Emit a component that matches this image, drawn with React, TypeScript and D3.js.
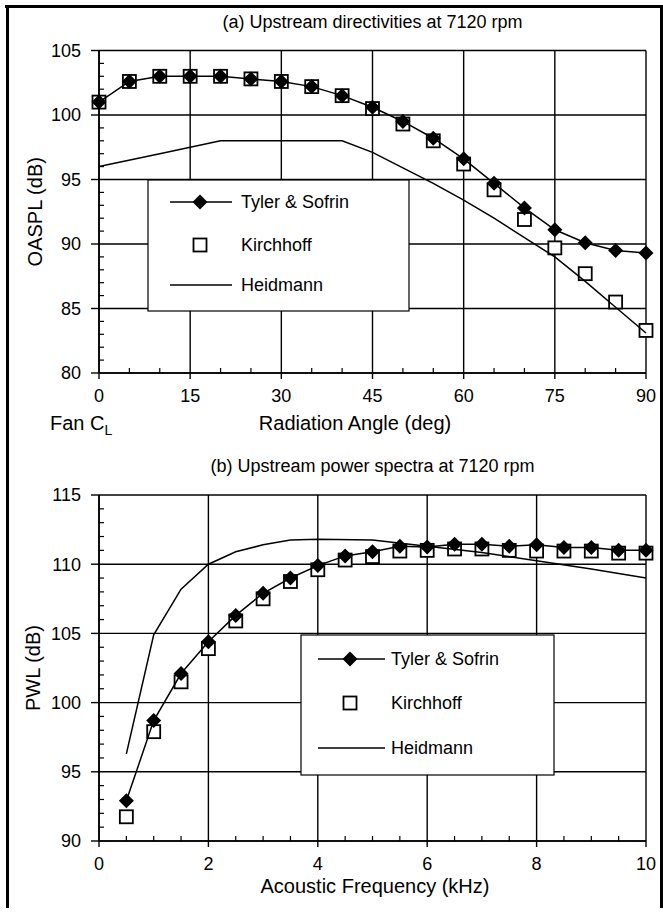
import React from "react";
import * as d3 from "d3";

// ---------- Data: (a) Upstream directivities ----------
const anglesA = [0, 5, 10, 15, 20, 25, 30, 35, 40, 45, 50, 55, 60, 65, 70, 75, 80, 85, 90];
const tylerA = [101.0, 102.6, 103.0, 103.0, 103.0, 102.8, 102.6, 102.2, 101.5, 100.6, 99.5, 98.2, 96.6, 94.7, 92.8, 91.1, 90.1, 89.5, 89.3];
const kirchA = [101.0, 102.6, 103.0, 103.0, 103.0, 102.8, 102.6, 102.2, 101.5, 100.5, 99.3, 98.0, 96.2, 94.2, 91.9, 89.7, 87.7, 85.5, 83.3];
const heidAnglesA = [0, 10, 20, 40, 45, 50, 55, 60, 65, 70, 75, 80, 85, 90];
const heidA = [96.0, 97.0, 98.0, 98.0, 97.1, 95.9, 94.7, 93.4, 92.0, 90.5, 89.0, 87.1, 85.1, 83.1];
const xTicksA = [0, 15, 30, 45, 60, 75, 90];
const yTicksA = [80, 85, 90, 95, 100, 105];

// ---------- Data: (b) Upstream power spectra ----------
const freqsB = [0.5, 1, 1.5, 2, 2.5, 3, 3.5, 4, 4.5, 5, 5.5, 6, 6.5, 7, 7.5, 8, 8.5, 9, 9.5, 10];
const tylerB = [92.9, 98.7, 102.1, 104.4, 106.3, 107.9, 109.0, 109.9, 110.6, 110.9, 111.3, 111.25, 111.45, 111.45, 111.3, 111.4, 111.2, 111.2, 111.0, 111.0];
const kirchB = [91.75, 97.9, 101.5, 103.9, 105.9, 107.5, 108.75, 109.6, 110.3, 110.55, 110.95, 111.0, 111.1, 111.1, 111.0, 110.95, 110.95, 110.95, 110.8, 110.8];
const heidFreqsB = [0.5, 1, 1.5, 2, 2.5, 3, 3.5, 4, 5, 6, 7, 8, 9, 10];
const heidB = [96.3, 104.9, 108.2, 110.0, 110.9, 111.4, 111.75, 111.8, 111.75, 111.3, 110.85, 110.25, 109.65, 109.0];
const xTicksB = [0, 2, 4, 6, 8, 10];
const yTicksB = [90, 95, 100, 105, 110, 115];

const seriesNames = ["Tyler & Sofrin", "Kirchhoff", "Heidmann"];

const FONT = "'Liberation Sans', Arial, Helvetica, sans-serif";

type PanelProps = {
  title: string;
  titleY: number;
  top: number;
  bottom: number;
  xDomain: [number, number];
  yDomain: [number, number];
  xTicks: number[];
  yTicks: number[];
  xMinorStep: number;
  xs: number[];
  tyler: number[];
  kirch: number[];
  heidX: number[];
  heid: number[];
  yLabel: string;
  yLabelX: number;
  legend: { x0: number; y0: number; x1: number; y1: number; rows: number[]; lineX0: number; lineX1: number; markX: number; textX: number };
  xLabel: React.ReactNode;
};

const LEFT = 99;
const RIGHT = 646;

function Diamond({ x, y, w = 7.5, h = 7.5 }: { x: number; y: number; w?: number; h?: number }) {
  return <path d={`M${x},${y - h}L${x + w},${y}L${x},${y + h}L${x - w},${y}Z`} fill="#000" />;
}

function Square({ x, y, s = 13 }: { x: number; y: number; s?: number }) {
  return <rect x={x - s / 2} y={y - s / 2} width={s} height={s} fill="#fff" stroke="#000" strokeWidth={1.8} />;
}

function Panel(p: PanelProps) {
  const x = d3.scaleLinear().domain(p.xDomain).range([LEFT, RIGHT]);
  const y = d3.scaleLinear().domain(p.yDomain).range([p.bottom, p.top]);
  const line = d3.line<[number, number]>().x((d) => x(d[0])).y((d) => y(d[1]));
  const tylerPts: [number, number][] = p.xs.map((v, i) => [v, p.tyler[i]]);
  const kirchPts: [number, number][] = p.xs.map((v, i) => [v, p.kirch[i]]);
  const heidPts: [number, number][] = p.heidX.map((v, i) => [v, p.heid[i]]);
  const yMinor = d3.range(p.yDomain[0] + 1, p.yDomain[1], 1).filter((v) => v % 5 !== 0);
  const nMinor = Math.round((p.xDomain[1] - p.xDomain[0]) / p.xMinorStep);
  const xMinor = d3.range(1, nMinor).map((i) => p.xDomain[0] + i * p.xMinorStep).filter((v) => !p.xTicks.some((t) => Math.abs(t - v) < 1e-6));
  const lg = p.legend;
  const plotCx = (LEFT + RIGHT) / 2;
  return (
    <g>
      <text x={plotCx} y={p.titleY} textAnchor="middle" fontSize={18} fontFamily={FONT}>{p.title}</text>
      {/* grid */}
      {p.yTicks.map((t) => (
        <line key={"gy" + t} x1={LEFT} x2={RIGHT} y1={y(t)} y2={y(t)} stroke="#000" strokeWidth={1.4} />
      ))}
      {p.xTicks.map((t) => (
        <line key={"gx" + t} x1={x(t)} x2={x(t)} y1={p.top} y2={p.bottom} stroke="#000" strokeWidth={1.4} />
      ))}
      {/* axes */}
      <line x1={LEFT} x2={LEFT} y1={p.top} y2={p.bottom} stroke="#000" strokeWidth={1.6} />
      <line x1={LEFT} x2={RIGHT} y1={p.bottom} y2={p.bottom} stroke="#000" strokeWidth={1.6} />
      {/* y ticks */}
      {p.yTicks.map((t) => (
        <g key={"yt" + t}>
          <line x1={LEFT - 8} x2={LEFT} y1={y(t)} y2={y(t)} stroke="#000" strokeWidth={1.4} />
          <text x={81} y={y(t)} dy="0.36em" textAnchor="end" fontSize={18} fontFamily={FONT}>{t}</text>
        </g>
      ))}
      {yMinor.map((t) => (
        <line key={"ym" + t} x1={LEFT} x2={LEFT + 5} y1={y(t)} y2={y(t)} stroke="#000" strokeWidth={1.2} />
      ))}
      {/* x ticks */}
      {p.xTicks.map((t) => (
        <g key={"xt" + t}>
          <line x1={x(t)} x2={x(t)} y1={p.bottom} y2={p.bottom + 6} stroke="#000" strokeWidth={1.4} />
          <text x={x(t)} y={p.bottom + 29} textAnchor="middle" fontSize={18} fontFamily={FONT}>{t}</text>
        </g>
      ))}
      {xMinor.map((t) => (
        <line key={"xm" + t} x1={x(t)} x2={x(t)} y1={p.bottom} y2={p.bottom - 5} stroke="#000" strokeWidth={1.2} />
      ))}
      {/* legend box (behind data) */}
      <rect x={lg.x0} y={lg.y0} width={lg.x1 - lg.x0} height={lg.y1 - lg.y0} fill="#fff" stroke="#000" strokeWidth={1.2} />
      {/* data */}
      {kirchPts.map((d, i) => <Square key={"k" + i} x={x(d[0])} y={y(d[1])} />)}
      <path d={line(heidPts) || ""} fill="none" stroke="#000" strokeWidth={1.5} />
      <path d={line(tylerPts) || ""} fill="none" stroke="#000" strokeWidth={1.5} />
      {tylerPts.map((d, i) => <Diamond key={"t" + i} x={x(d[0])} y={y(d[1])} />)}
      {/* legend entries */}
      <line x1={lg.lineX0} x2={lg.lineX1} y1={lg.rows[0]} y2={lg.rows[0]} stroke="#000" strokeWidth={1.5} />
      <Diamond x={lg.markX} y={lg.rows[0]} />
      <Square x={lg.markX} y={lg.rows[1]} />
      <line x1={lg.lineX0} x2={lg.lineX1} y1={lg.rows[2]} y2={lg.rows[2]} stroke="#000" strokeWidth={1.5} />
      {seriesNames.map((n, i) => (
        <text key={n} x={lg.textX} y={lg.rows[i]} dy="0.36em" fontSize={18} fontFamily={FONT}>{n}</text>
      ))}
      {/* axis titles */}
      <text transform={`translate(${p.yLabelX},${(p.top + p.bottom) / 2}) rotate(-90)`} textAnchor="middle" dy="0.36em" fontSize={20} fontFamily={FONT}>{p.yLabel}</text>
      {p.xLabel}
    </g>
  );
}

export default function App() {
  return (
    <svg width={663} height={912} style={{ position: "absolute", left: 0, top: 0, background: "#fff" }} xmlns="http://www.w3.org/2000/svg">
      <rect x={0} y={0} width={663} height={912} fill="#fff" />
      <Panel
        title="(a) Upstream directivities at 7120 rpm"
        titleY={28}
        top={50.5}
        bottom={373}
        xDomain={[0, 90]}
        yDomain={[80, 105]}
        xTicks={xTicksA}
        yTicks={yTicksA}
        xMinorStep={5}
        xs={anglesA}
        tyler={tylerA}
        kirch={kirchA}
        heidX={heidAnglesA}
        heid={heidA}
        yLabel="OASPL (dB)"
        yLabelX={35}
        legend={{ x0: 148, y0: 180, x1: 409, y1: 311, rows: [202, 245, 285], lineX0: 170, lineX1: 232, markX: 200, textX: 241 }}
        xLabel={
          <g fontFamily={FONT} fontSize={20}>
            <text x={50} y={430}>Fan C<tspan fontSize={14} dy={5}>L</tspan></text>
            <text x={355} y={430} textAnchor="middle">Radiation Angle (deg)</text>
          </g>
        }
      />
      <Panel
        title="(b) Upstream power spectra at 7120 rpm"
        titleY={472}
        top={495}
        bottom={841}
        xDomain={[0, 10]}
        yDomain={[90, 115]}
        xTicks={xTicksB}
        yTicks={yTicksB}
        xMinorStep={0.5}
        xs={freqsB}
        tyler={tylerB}
        kirch={kirchB}
        heidX={heidFreqsB}
        heid={heidB}
        yLabel="PWL (dB)"
        yLabelX={33}
        legend={{ x0: 301, y0: 635, x1: 554, y1: 775, rows: [659, 703, 748], lineX0: 318, lineX1: 385, markX: 350, textX: 391 }}
        xLabel={
          <text x={375} y={893} textAnchor="middle" fontFamily={FONT} fontSize={20}>Acoustic Frequency (kHz)</text>
        }
      />
      {/* outer frame */}
      <line x1={5} x2={663} y1={6.5} y2={6.5} stroke="#000" strokeWidth={3} />
      <line x1={7.5} x2={7.5} y1={5} y2={908} stroke="#000" strokeWidth={3} />
      <line x1={661.5} x2={661.5} y1={5} y2={908} stroke="#000" strokeWidth={3} />
    </svg>
  );
}
